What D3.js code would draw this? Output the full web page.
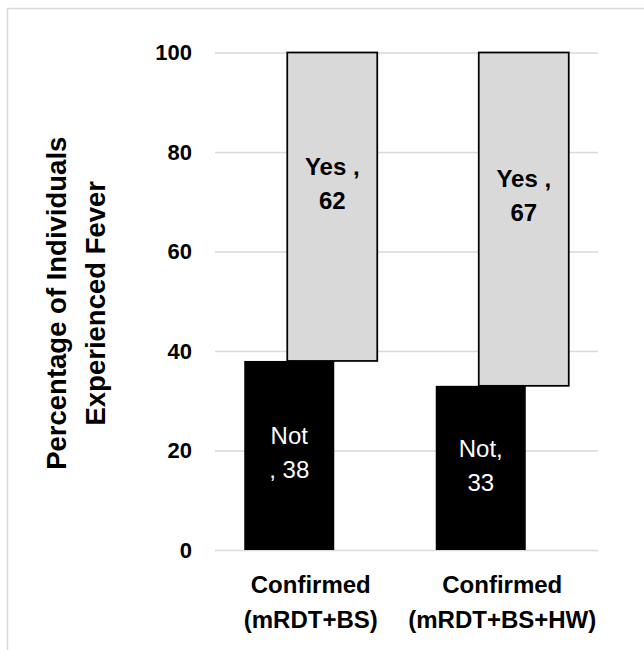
<!DOCTYPE html>
<html>
<head>
<meta charset="utf-8">
<script src="https://cdn.jsdelivr.net/npm/d3@7"></script>
<style>
  html, body { margin: 0; padding: 0; background: #fff; }
  svg { display: block; }
</style>
</head>
<body>
<div id="chart"></div>
<script>
// ---- data ----
const categories = [["Confirmed", "(mRDT+BS)"], ["Confirmed", "(mRDT+BS+HW)"]];
const seriesNames = ["Not", "Yes"];
const notValues = [38, 33];
const yesValues = [62, 67];
const notLabelFirst = ["Not", "Not,"];
const notLabelSep = [", ", ""];
const yesLabelFirst = ["Yes ,", "Yes ,"];
const yesLabelSep = ["", ""];
const yTicks = [0, 20, 40, 60, 80, 100];
const yTitle = ["Percentage of Individuals", "Experienced Fever"];

// ---- layout ----
const W = 644, H = 650;
const FONT = "'Liberation Sans', Arial, sans-serif";
const plot = { left: 215, right: 598, top: 52.5, bottom: 550 };
const barW = 90;

const svg = d3.select("#chart").append("svg")
  .attr("width", W).attr("height", H)
  .style("font-family", FONT);

// outer frame
svg.append("rect")
  .attr("x", 7.5).attr("y", 8.5).attr("width", 800).attr("height", 800)
  .attr("fill", "none").attr("stroke", "#d9d9d9").attr("stroke-width", 1.5);

const catKeys = categories.map((c, i) => i);
const x = d3.scaleBand().domain(catKeys).range([plot.left, plot.right]).paddingInner(0).paddingOuter(0);
const xSub = d3.scalePoint().domain(seriesNames).range([-21.5, 21.5]);
const y = d3.scaleLinear().domain([0, 100]).range([plot.bottom, plot.top]);

// gridlines
const grid = svg.append("g").attr("transform", `translate(${plot.left},0)`)
  .call(d3.axisLeft(y).tickValues(yTicks).tickSize(-(plot.right - plot.left)).tickFormat(""));
grid.select(".domain").remove();
grid.selectAll(".tick line").attr("stroke", "#d9d9d9").attr("stroke-width", 1.5);

// y tick labels
const yAxis = svg.append("g").attr("transform", `translate(${plot.left},0)`)
  .call(d3.axisLeft(y).tickValues(yTicks).tickSize(0).tickPadding(23).tickFormat(d3.format("d")));
yAxis.select(".domain").remove();
yAxis.selectAll(".tick text")
  .attr("font-family", FONT).attr("font-size", 22).attr("font-weight", "bold").attr("fill", "#000");

// bars
const rows = catKeys.map(i => ({ i, not: notValues[i], yes: yesValues[i] }));

svg.append("g").selectAll("rect").data(rows).join("rect")
  .attr("x", d => x(d.i) + x.bandwidth() / 2 + xSub("Not") - barW / 2)
  .attr("y", d => y(d.not))
  .attr("width", barW)
  .attr("height", d => y(0) - y(d.not))
  .attr("fill", "#000");

svg.append("g").selectAll("rect").data(rows).join("rect")
  .attr("x", d => x(d.i) + x.bandwidth() / 2 + xSub("Yes") - barW / 2)
  .attr("y", d => y(d.not + d.yes))
  .attr("width", barW)
  .attr("height", d => y(d.not) - y(d.not + d.yes))
  .attr("fill", "#d9d9d9").attr("stroke", "#000").attr("stroke-width", 1.75);

// data labels
const lh = 34;
function twoLine(g, cx, cy, l1, l2, color, weight) {
  const t = g.append("text").attr("text-anchor", "middle")
    .attr("font-size", 24).attr("font-weight", weight).attr("fill", color);
  t.append("tspan").attr("x", cx).attr("y", cy - lh / 2 + 8).text(l1);
  t.append("tspan").attr("x", cx).attr("y", cy + lh / 2 + 8).text(l2);
}
const lbl = svg.append("g");
rows.forEach(d => {
  const cxN = x(d.i) + x.bandwidth() / 2 + xSub("Not");
  const cyN = y(d.not / 2) - 2;
  twoLine(lbl, cxN, cyN, notLabelFirst[d.i], notLabelSep[d.i] + d.not, "#fff", "normal");
  const cxY = x(d.i) + x.bandwidth() / 2 + xSub("Yes");
  const cyY = y(d.not + d.yes / 2) - 23;
  twoLine(lbl, cxY, cyY, yesLabelFirst[d.i], yesLabelSep[d.i] + d.yes, "#000", "bold");
});

// category labels
const cat = svg.append("g");
categories.forEach((c, i) => {
  const t = cat.append("text").attr("text-anchor", "middle")
    .attr("font-size", 24).attr("font-weight", "bold").attr("fill", "#000");
  t.append("tspan").attr("x", x(i) + x.bandwidth() / 2).attr("y", 593).text(c[0]);
  t.append("tspan").attr("x", x(i) + x.bandwidth() / 2).attr("y", 628).text(c[1]);
});

// y-axis title
const yt = svg.append("text")
  .attr("transform", `translate(0,${(plot.top + plot.bottom) / 2 + 2}) rotate(-90)`)
  .attr("text-anchor", "middle")
  .attr("font-size", 27.5).attr("font-weight", "bold").attr("fill", "#000");
yt.append("tspan").attr("x", 0).attr("y", 66).text(yTitle[0]);
yt.append("tspan").attr("x", 0).attr("y", 105).text(yTitle[1]);
</script>
</body>
</html>
